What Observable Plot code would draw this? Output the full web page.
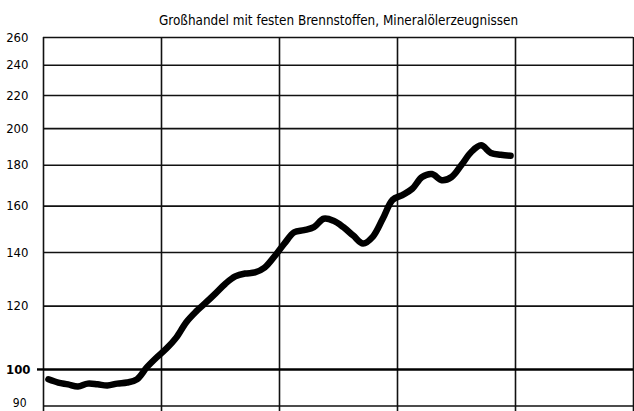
<!DOCTYPE html>
<html>
<head>
<meta charset="utf-8">
<script src="https://cdn.jsdelivr.net/npm/d3@7"></script>
<script src="https://cdn.jsdelivr.net/npm/@observablehq/plot@0.6"></script>
<style>
  html, body { margin: 0; padding: 0; background: #fff; }
  #chart { width: 634px; height: 411px; overflow: hidden; }
</style>
</head>
<body>
<div id="chart"></div>
<script>
// Title
const title = "Großhandel mit festen Brennstoffen, Mineralölerzeugnissen";

// Monthly index values (48 months, 4 years)
const months = d3.range(48);
const values = [
  97.2, 96.3, 95.8, 95.2, 96.0, 95.8, 95.5, 96.0, 96.3, 97.2, 100.6, 103.5,
  106.2, 109.6, 114.5, 118.1, 121.2, 124.5, 128.0, 130.7, 131.8, 132.2, 134.1, 138.5,
  143.7, 148.4, 149.3, 150.6, 154.3, 153.4, 150.6, 147.0, 143.7, 146.6, 154.3, 162.9,
  165.2, 168.2, 174.0, 175.5, 172.4, 174.0, 180.1, 187.0, 190.6, 186.5, 185.5, 185.0
];

// Axis ticks
const yTicks = [90, 100, 120, 140, 160, 180, 200, 220, 240, 260];
const yearBounds = [0, 12, 24, 36, 48, 60];

const data = months.map((m, i) => ({x: m + 0.5, y: values[i]}));
const font = "'DejaVu Sans Condensed', 'Liberation Sans Narrow', 'DejaVu Sans', sans-serif";

const chart = Plot.plot({
  width: 634,
  height: 411,
  marginTop: 37,
  marginBottom: 0,
  marginLeft: 43,
  marginRight: 1,
  style: {fontFamily: font, background: "#fff", color: "#000"},
  x: {type: "linear", domain: [0, 60], axis: null},
  y: {type: "log", domain: [88.6, 260], axis: null},
  marks: [
    Plot.ruleY(yTicks.filter(d => d !== 100), {stroke: "#111", strokeWidth: 1.6}),
    Plot.ruleX(yearBounds, {stroke: "#111", strokeWidth: 1.6}),
    Plot.ruleY([100], {stroke: "#000", strokeWidth: 2.4}),
    Plot.axisY(yTicks.filter(d => d !== 100 && d !== 90), {
      label: null, tickSize: 0, tickPadding: 15, fontSize: 13,
      tickFormat: d => String(d)
    }),
    Plot.axisY([90], {
      label: null, tickSize: 0, tickPadding: 17, fontSize: 12, dy: -3,
      tickFormat: d => String(d)
    }),
    Plot.axisY([100], {
      label: null, tickSize: 6, tickPadding: 7, fontSize: 13, fontWeight: "bold",
      strokeWidth: 2.4, tickFormat: d => String(d)
    }),
    Plot.line(data, {
      x: "x", y: "y", stroke: "#000", strokeWidth: 6.5,
      strokeLinejoin: "round", strokeLinecap: "round", curve: "catmull-rom"
    }),
    Plot.text([title], {
      frameAnchor: "top", dy: -22, fontSize: 13.4, fill: "#000", text: d => d
    })
  ]
});
document.getElementById("chart").append(chart);
</script>
</body>
</html>
